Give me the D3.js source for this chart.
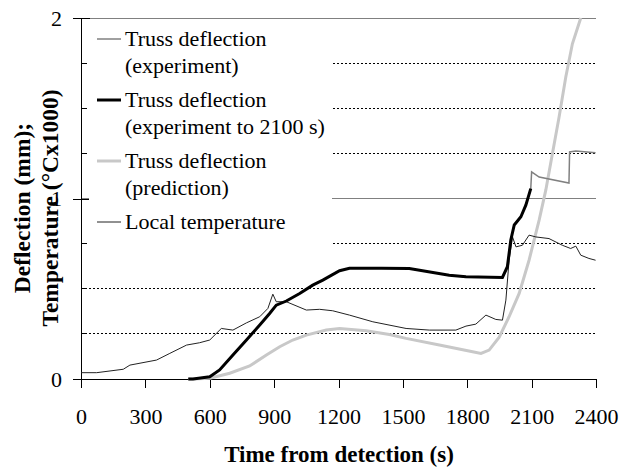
<!DOCTYPE html>
<html>
<head>
<meta charset="utf-8">
<script src="https://cdnjs.cloudflare.com/ajax/libs/d3/7.8.5/d3.min.js"></script>
<style>
  body { margin: 0; background: #fff; }
  text { font-family: "Liberation Serif", "Times New Roman", serif; fill: #000; }
</style>
</head>
<body>
<div id="chart"></div>
<script>
// values (time in s, value in mm or degC x 1000)
var xTicks = [0, 300, 600, 900, 1200, 1500, 1800, 2100, 2400];
var yLabels = [0, 1, 2];
var gridValues = [0.25, 0.5, 0.75, 1, 1.25, 1.5, 1.75, 2];

var tempTime = [0, 73, 197, 228, 352, 414, 492, 553, 600, 654, 708, 771, 833, 871, 894, 910, 957, 1050, 1112, 1173, 1251, 1360, 1515, 1623, 1747, 1794, 1840, 1887, 1933, 1964, 1980, 1995, 2011, 2027, 2057, 2088, 2120, 2181, 2243, 2282, 2306, 2329, 2367, 2398];
var tempValue = [0.035, 0.035, 0.054, 0.077, 0.105, 0.142, 0.188, 0.201, 0.216, 0.280, 0.271, 0.311, 0.345, 0.391, 0.470, 0.428, 0.428, 0.382, 0.386, 0.378, 0.354, 0.317, 0.280, 0.271, 0.271, 0.293, 0.304, 0.354, 0.330, 0.326, 0.437, 0.658, 0.787, 0.732, 0.741, 0.797, 0.787, 0.778, 0.741, 0.723, 0.736, 0.686, 0.668, 0.658];

var exp2100Time = [500, 522, 600, 646, 708, 771, 833, 879, 910, 957, 1019, 1080, 1127, 1205, 1251, 1400, 1530, 1716, 1794, 1964, 1987, 2003, 2019, 2050, 2073, 2096];
var exp2100Value = [0, 0, 0.012, 0.050, 0.133, 0.216, 0.299, 0.363, 0.409, 0.432, 0.474, 0.520, 0.548, 0.600, 0.614, 0.613, 0.612, 0.575, 0.566, 0.563, 0.622, 0.770, 0.853, 0.899, 0.963, 1.055];

var expTailTime = [2100, 2135, 2274, 2277, 2306, 2398];
var expTailValue = [1.147, 1.119, 1.086, 1.258, 1.263, 1.254];

var predTime = [500, 522, 600, 693, 786, 864, 926, 987, 1050, 1143, 1205, 1329, 1437, 1515, 1670, 1825, 1864, 1902, 1949, 1995, 2042, 2088, 2135, 2166, 2197, 2228, 2259, 2290, 2329];
var predValue = [0, 0, 0.004, 0.032, 0.072, 0.133, 0.179, 0.216, 0.243, 0.271, 0.280, 0.267, 0.247, 0.225, 0.188, 0.151, 0.142, 0.160, 0.232, 0.345, 0.474, 0.658, 0.880, 1.046, 1.249, 1.451, 1.672, 1.857, 2.0];

var legendNames = [['Truss deflection', '(experiment)'], ['Truss deflection', '(experiment to 2100 s)'], ['Truss deflection', '(prediction)'], ['Local temperature']];

function pairs(ts, vs) { return ts.map(function(t, i) { return [t, vs[i]]; }); }

var svg = d3.select('#chart').append('svg')
  .attr('width', 629)
  .attr('height', 470);

svg.append('rect').attr('width', 629).attr('height', 470).attr('fill', '#fff');

var x = d3.scaleLinear().domain([0, 2400]).range([81, 596]);
var y = d3.scaleLinear().domain([0, 2]).range([379, 18]);

// gridlines
svg.selectAll('.grid')
  .data(gridValues)
 .enter().append('line')
  .attr('class', 'grid')
  .attr('x1', x(0)).attr('x2', x(2400))
  .attr('y1', function(d) { return y(d); })
  .attr('y2', function(d) { return y(d); })
  .attr('stroke', function(d) { return d % 1 === 0 ? '#808080' : '#000'; })
  .attr('stroke-width', 1)
  .attr('stroke-dasharray', function(d) { return d % 1 === 0 ? null : '2,2'; })
  .attr('shape-rendering', 'crispEdges');

// axes
var xAxis = d3.axisBottom(x).tickValues(xTicks).tickSize(9).tickPadding(20).tickFormat(d3.format('d'));
var gx = svg.append('g').attr('transform', 'translate(0,' + y(0) + ')').call(xAxis);
gx.select('.domain').remove();
gx.selectAll('line').attr('stroke', '#000').attr('shape-rendering', 'crispEdges');
gx.selectAll('text').style('font-size', '22px');
svg.append('line').attr('x1', 73).attr('x2', x(2400)).attr('y1', y(0)).attr('y2', y(0))
  .attr('stroke', '#000').attr('shape-rendering', 'crispEdges');

var yAxis = d3.axisLeft(y).tickValues(yLabels).tickSize(8).tickPadding(11).tickFormat(d3.format('d'));
var gy = svg.append('g').attr('transform', 'translate(' + x(0) + ',0)').call(yAxis);
gy.select('.domain').remove();
gy.selectAll('line').attr('x2', -8).attr('x1', 9).attr('stroke', '#000').attr('shape-rendering', 'crispEdges');
gy.selectAll('text').style('font-size', '22px');
svg.append('line').attr('x1', x(0)).attr('x2', x(0)).attr('y1', y(2)).attr('y2', y(0))
  .attr('stroke', '#000').attr('shape-rendering', 'crispEdges');
svg.selectAll('.minor')
  .data(gridValues.filter(function(d) { return d % 1 !== 0; }))
 .enter().append('line')
  .attr('x1', x(0)).attr('x2', x(0) + 5)
  .attr('y1', function(d) { return y(d); }).attr('y2', function(d) { return y(d); })
  .attr('stroke', '#000').attr('shape-rendering', 'crispEdges');

// legend background hides gridlines behind it
svg.append('rect').attr('x', 89).attr('y', 24).attr('width', 243).attr('height', 228).attr('fill', '#fff');

var line = d3.line().x(function(d) { return x(d[0]); }).y(function(d) { return y(d[1]); });

var expData = pairs(exp2100Time, exp2100Value).concat(pairs(expTailTime, expTailValue));

svg.append('path').datum(pairs(predTime, predValue)).attr('d', line)
  .attr('fill', 'none').attr('stroke', '#c8c8c8').attr('stroke-width', 3);
svg.append('path').datum(expData).attr('d', line)
  .attr('fill', 'none').attr('stroke', '#808080').attr('stroke-width', 1.5);
svg.append('path').datum(pairs(tempTime, tempValue)).attr('d', line)
  .attr('fill', 'none').attr('stroke', '#222').attr('stroke-width', 1);
svg.append('path').datum(pairs(exp2100Time, exp2100Value)).attr('d', line)
  .attr('fill', 'none').attr('stroke', '#000').attr('stroke-width', 3);

// legend
var legColors = ['#808080', '#000', '#c8c8c8', '#222'];
var legWidths = [1.5, 3, 3, 1];
var legY = [39, 100, 161, 222];
var leg = svg.selectAll('.leg')
  .data(legendNames)
 .enter().append('g')
  .attr('transform', function(d, i) { return 'translate(97,' + legY[i] + ')'; });
leg.append('line').attr('x1', 0).attr('x2', 24)
  .attr('stroke', function(d, i) { return legColors[i]; })
  .attr('stroke-width', function(d, i) { return legWidths[i]; });
leg.append('text')
  .attr('x', 28).attr('y', 7)
  .style('font-size', '22px')
  .selectAll('tspan')
  .data(function(d) { return d; })
 .enter().append('tspan')
  .attr('x', 28)
  .attr('dy', function(d, i) { return i ? 27 : 0; })
  .text(function(d) { return d; });

// axis titles
svg.append('text')
  .attr('x', 339).attr('y', 462)
  .attr('text-anchor', 'middle')
  .style('font-size', '23px').style('font-weight', 'bold')
  .text('Time from detection (s)');

var yt = svg.append('text')
  .attr('transform', 'translate(0,208) rotate(-90)')
  .attr('text-anchor', 'middle')
  .style('font-size', '23.5px').style('font-weight', 'bold');
yt.append('tspan').attr('x', 0).attr('y', 30).text('Deflection (mm);');
yt.append('tspan').attr('x', 0).attr('y', 58).text('Temperature (°Cx1000)');
</script>
</body>
</html>
